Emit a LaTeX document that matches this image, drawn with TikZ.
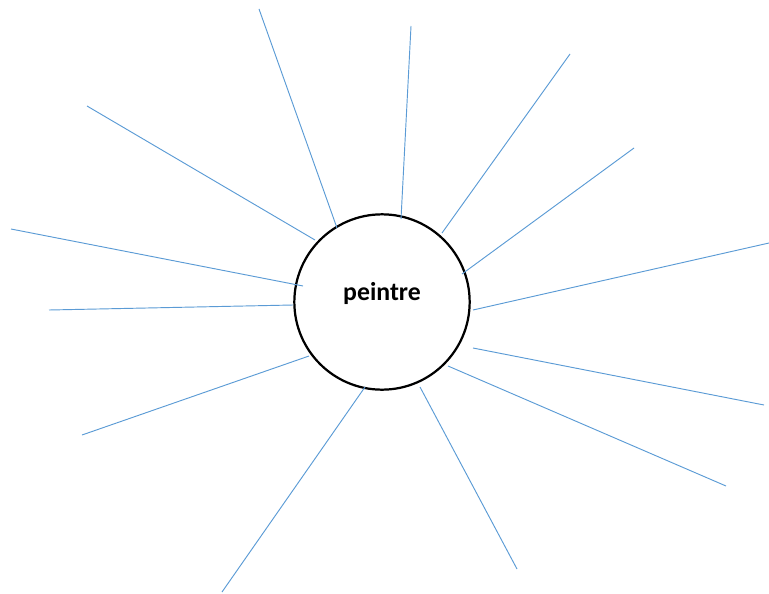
\documentclass[tikz,border=0pt]{standalone}
\usepackage{fontspec}
\setmainfont{Carlito}
\usepackage{xcolor}
\usepackage{tikz}
\usetikzlibrary{positioning}
\definecolor{rayblue}{HTML}{5B9BD5}
\tikzset{
  hub/.style={draw=black,line width=1.9pt,circle,minimum size=5.26cm,inner sep=0pt},
  ray/.style={draw=rayblue,line width=0.8pt},
  word/.style={font=\fontsize{22}{26}\selectfont\bfseries,inner sep=0pt},
}

\begin{document}
\begin{tikzpicture}[x=0.03cm,y=-0.03cm]
  \useasboundingbox (0,0) rectangle (769,593);
  \node[hub] (hub) at (382,302) {};
  \node[word] (peintre) at (382,293) {peintre};
  % rays: outer end / inner end
  \foreach \ox/\oy/\ix/\iy [count=\i] in {
      259/9/337/228, 411/26/401/219, 570/54/442/233, 634/148/462/274,
      769/243/473/310, 764/405/473/348, 726/486/448/366, 517/569/420/387,
      222/592/365/387, 82/435/309/356, 49/310/293/305, 11/229/303/286,
      87/106/315/240}{
    \coordinate (out\i) at (\ox,\oy);
    \coordinate (in\i) at (\ix,\iy);
    \draw[ray] (out\i) -- (in\i);
  }
\end{tikzpicture}
\end{document}
